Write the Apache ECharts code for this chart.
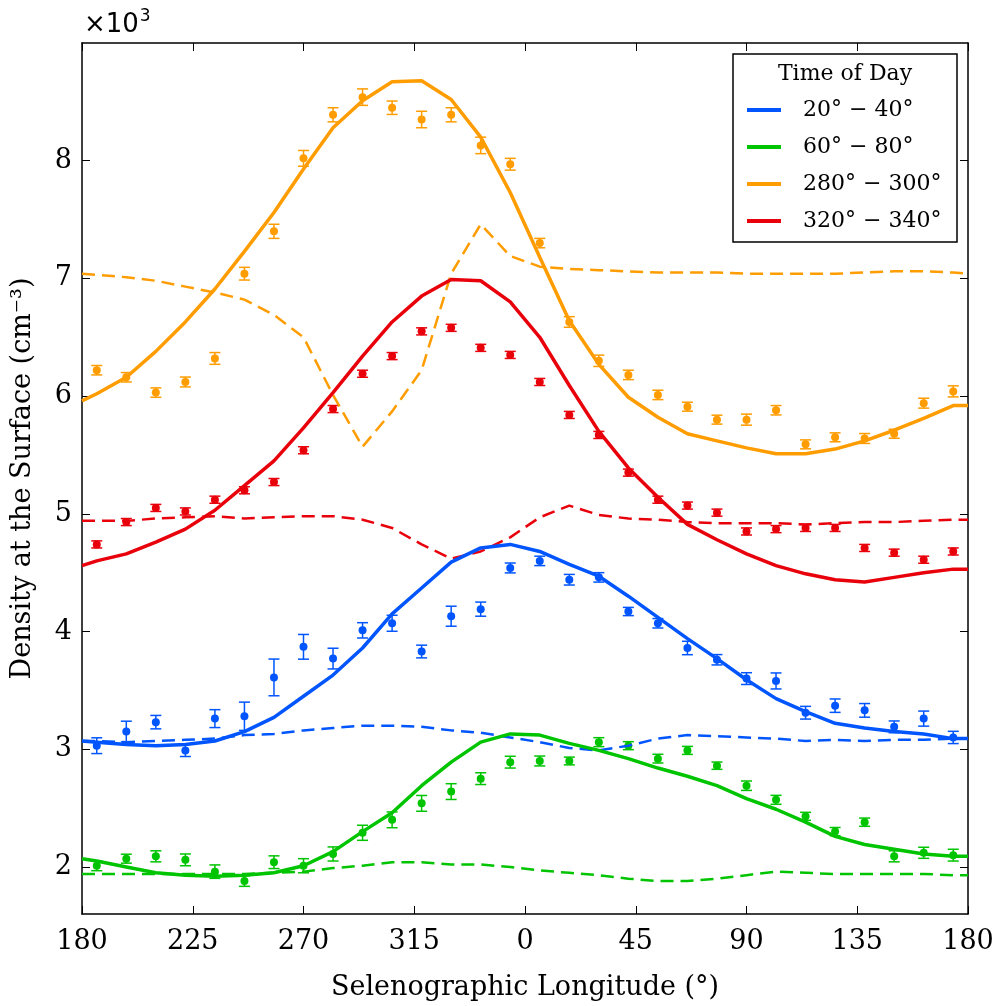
<!DOCTYPE html>
<html>
<head>
<meta charset="utf-8">
<script src="https://cdn.jsdelivr.net/npm/echarts@6/dist/echarts.min.js"></script>
<style>
  html, body { margin: 0; padding: 0; background: #fff; }
  #main { width: 998px; height: 1006px; }
</style>
</head>
<body>
<div id="main"></div>
<script>
// longitudes of the measured points and of the model curves (180..540 = 180..360..180)
const pointLon = [186, 198, 210, 222, 234, 246, 258, 270, 282, 294, 306, 318, 330, 342, 354,
                  366, 378, 390, 402, 414, 426, 438, 450, 462, 474, 486, 498, 510, 522, 534];
const lineLon = [180, 186, 198, 210, 222, 234, 246, 258, 270, 282, 294, 306, 318, 330, 342, 354,
                 366, 378, 390, 402, 414, 426, 438, 450, 462, 474, 486, 498, 510, 522, 534, 540];
const xTicks = [180, 225, 270, 315, 360, 405, 450, 495, 540];
const yTicks = [2, 3, 4, 5, 6, 7, 8];

const legendNames = ['20° − 40°', '60° − 80°', '280° − 300°', '320° − 340°'];
const colors = ['#0055ff', '#00c400', '#ff9c00', '#e8000b'];

// 20-40 (blue)
const bluePts = [3.03, 3.15, 3.23, 2.99, 3.26, 3.28, 3.61, 3.87, 3.77, 4.01, 4.07, 3.83, 4.13, 4.19, 4.54,
                 4.60, 4.44, 4.46, 4.17, 4.07, 3.86, 3.76, 3.60, 3.58, 3.31, 3.37, 3.33, 3.19, 3.26, 3.10];
const blueErr = [0.067, 0.088, 0.057, 0.052, 0.076, 0.12, 0.156, 0.105, 0.088, 0.065, 0.068, 0.054, 0.085, 0.06, 0.042,
                 0.04, 0.045, 0.04, 0.035, 0.04, 0.057, 0.044, 0.05, 0.068, 0.054, 0.057, 0.058, 0.05, 0.064, 0.052];
const blueModel = [3.07, 3.06, 3.04, 3.03, 3.04, 3.07, 3.15, 3.27, 3.45, 3.63, 3.86, 4.15, 4.37, 4.59, 4.71, 4.74,
                   4.68, 4.57, 4.47, 4.30, 4.12, 3.94, 3.77, 3.59, 3.43, 3.32, 3.22, 3.18, 3.15, 3.13, 3.09, 3.09];
const blueDash = [3.07, 3.07, 3.06, 3.07, 3.08, 3.09, 3.12, 3.13, 3.16, 3.18, 3.20, 3.20, 3.19, 3.16, 3.14, 3.10,
                  3.06, 3.01, 2.99, 3.03, 3.09, 3.12, 3.11, 3.10, 3.09, 3.07, 3.08, 3.07, 3.08, 3.08, 3.09, 3.09];

// 60-80 (green)
const greenPts = [2.01, 2.07, 2.09, 2.06, 1.96, 1.88, 2.04, 2.01, 2.11, 2.29, 2.40, 2.54, 2.64, 2.75, 2.89,
                  2.90, 2.90, 3.06, 3.03, 2.92, 2.99, 2.86, 2.69, 2.57, 2.43, 2.30, 2.38, 2.09, 2.12, 2.10];
const greenErr = [0.042, 0.038, 0.047, 0.05, 0.057, 0.045, 0.054, 0.06, 0.06, 0.064, 0.067, 0.067, 0.067, 0.05, 0.05,
                  0.042, 0.033, 0.038, 0.034, 0.037, 0.034, 0.031, 0.04, 0.038, 0.034, 0.035, 0.035, 0.047, 0.047, 0.05];
const greenModel = [2.07, 2.05, 2.00, 1.95, 1.93, 1.92, 1.93, 1.95, 2.01, 2.13, 2.30, 2.46, 2.69, 2.89, 3.06, 3.13,
                    3.12, 3.05, 2.99, 2.92, 2.84, 2.77, 2.69, 2.58, 2.49, 2.38, 2.26, 2.19, 2.15, 2.11, 2.09, 2.09];
const greenDash = [1.94, 1.94, 1.94, 1.94, 1.94, 1.94, 1.94, 1.95, 1.96, 1.99, 2.01, 2.04, 2.04, 2.02, 2.02, 2.00,
                   1.97, 1.95, 1.93, 1.90, 1.88, 1.88, 1.90, 1.93, 1.96, 1.95, 1.94, 1.94, 1.94, 1.94, 1.93, 1.93];

// 280-300 (orange)
const orangePts = [6.22, 6.16, 6.03, 6.12, 6.32, 7.04, 7.40, 8.02, 8.39, 8.54, 8.45, 8.35, 8.39, 8.13, 7.97,
                   7.30, 6.63, 6.30, 6.18, 6.01, 5.91, 5.80, 5.80, 5.88, 5.59, 5.65, 5.64, 5.68, 5.94, 6.04];
const orangeErr = [0.04, 0.04, 0.04, 0.042, 0.05, 0.054, 0.06, 0.067, 0.06, 0.07, 0.057, 0.07, 0.06, 0.07, 0.05,
                   0.04, 0.045, 0.048, 0.04, 0.04, 0.038, 0.038, 0.047, 0.04, 0.038, 0.038, 0.042, 0.038, 0.042, 0.047];
const orangeModel = [5.96, 6.02, 6.16, 6.38, 6.63, 6.91, 7.23, 7.56, 7.93, 8.28, 8.51, 8.67, 8.68, 8.52, 8.20, 7.73,
                     7.18, 6.64, 6.27, 5.99, 5.82, 5.68, 5.62, 5.56, 5.51, 5.51, 5.55, 5.62, 5.71, 5.81, 5.92, 5.92];
const orangeDash = [7.04, 7.03, 7.01, 6.98, 6.93, 6.88, 6.82, 6.69, 6.50, 6.01, 5.57, 5.87, 6.22, 7.04, 7.46, 7.19,
                    7.10, 7.08, 7.07, 7.06, 7.05, 7.05, 7.05, 7.04, 7.04, 7.04, 7.04, 7.05, 7.06, 7.06, 7.05, 7.04];

// 320-340 (red)
const redPts = [4.74, 4.93, 5.05, 5.02, 5.12, 5.20, 5.27, 5.54, 5.89, 6.19, 6.34, 6.55, 6.58, 6.41, 6.35,
                6.12, 5.84, 5.67, 5.35, 5.12, 5.07, 5.01, 4.85, 4.87, 4.88, 4.88, 4.71, 4.67, 4.61, 4.68];
const redErr = [0.03, 0.03, 0.03, 0.03, 0.03, 0.03, 0.03, 0.03, 0.03, 0.03, 0.03, 0.03, 0.03, 0.03, 0.03,
                0.03, 0.03, 0.03, 0.03, 0.03, 0.03, 0.03, 0.03, 0.03, 0.03, 0.03, 0.03, 0.03, 0.03, 0.03];
const redModel = [4.56, 4.60, 4.66, 4.76, 4.87, 5.03, 5.24, 5.45, 5.73, 6.03, 6.34, 6.63, 6.85, 6.99, 6.98, 6.80,
                  6.50, 6.09, 5.70, 5.39, 5.14, 4.91, 4.78, 4.66, 4.56, 4.49, 4.44, 4.42, 4.46, 4.50, 4.53, 4.53];
const redDash = [4.94, 4.94, 4.94, 4.96, 4.97, 4.98, 4.96, 4.97, 4.98, 4.98, 4.95, 4.88, 4.74, 4.62, 4.68, 4.80,
                 4.97, 5.07, 4.99, 4.96, 4.95, 4.93, 4.92, 4.92, 4.92, 4.91, 4.92, 4.93, 4.93, 4.94, 4.95, 4.95];

const SERIF = "'DejaVu Serif', serif";

function errorSeries(name, color, vals, errs) {
  return {
    name: name,
    type: 'custom',
    z: 2,
    data: pointLon.map((x, i) => [x, vals[i], errs[i]]),
    renderItem: function (params, api) {
      const x = api.value(0), y = api.value(1), e = api.value(2);
      const c = api.coord([x, y]);
      const top = api.coord([x, y + e]);
      const bot = api.coord([x, y - e]);
      const w = 5.5;
      const st = { stroke: color, lineWidth: 1.5 };
      return {
        type: 'group',
        children: [
          { type: 'line', shape: { x1: top[0], y1: top[1], x2: bot[0], y2: bot[1] }, style: st },
          { type: 'line', shape: { x1: top[0] - w, y1: top[1], x2: top[0] + w, y2: top[1] }, style: st },
          { type: 'line', shape: { x1: bot[0] - w, y1: bot[1], x2: bot[0] + w, y2: bot[1] }, style: st },
          { type: 'circle', shape: { cx: c[0], cy: c[1], r: 4 }, style: { fill: color } }
        ]
      };
    }
  };
}

function lineSeries(name, color, vals, dashed) {
  return {
    name: name,
    type: 'line',
    z: 3,
    symbol: 'none',
    clip: true,
    data: lineLon.map((x, i) => [x, vals[i]]),
    itemStyle: { color: color },
    lineStyle: { color: color, width: dashed ? 2.5 : 3.5, type: dashed ? [13, 7] : 'solid' }
  };
}

const groups = [
  [bluePts, blueErr, blueModel, blueDash],
  [greenPts, greenErr, greenModel, greenDash],
  [orangePts, orangeErr, orangeModel, orangeDash],
  [redPts, redErr, redModel, redDash]
];

let series = [];
groups.forEach((g, i) => {
  series.push(errorSeries('pts' + i, colors[i], g[0], g[1]));
  series.push(lineSeries('dash' + i, colors[i], g[3], true));
});
groups.forEach((g, i) => {
  series.push(lineSeries(legendNames[i], colors[i], g[2], false));
});

const frame = { show: true, onZero: false, lineStyle: { color: '#000', width: 1.5 } };
const ticks = (vals) => ({ show: true, inside: true, length: 8, customValues: vals, lineStyle: { color: '#000', width: 1 } });

var myChart = echarts.init(document.getElementById('main'));
let option = {
  animation: false,
  backgroundColor: '#fff',
  grid: { left: 82, right: 30, top: 43, bottom: 92 },
  xAxis: [
    {
      type: 'value', min: 180, max: 540, position: 'bottom',
      axisLine: frame, axisTick: ticks(xTicks), splitLine: { show: false },
      axisLabel: {
        customValues: xTicks,
        formatter: (v) => String(v % 360),
        fontFamily: SERIF, fontSize: 27, color: '#000', margin: 14
      },
      name: 'Selenographic Longitude (°)', nameLocation: 'middle', nameGap: 60,
      nameTextStyle: { fontFamily: SERIF, fontSize: 27, color: '#000' }
    },
    {
      type: 'value', min: 180, max: 540, position: 'top',
      axisLine: frame, axisTick: ticks(xTicks), splitLine: { show: false },
      axisLabel: { show: false }
    }
  ],
  yAxis: [
    {
      type: 'value', min: 1.6, max: 9.0, position: 'left',
      axisLine: frame, axisTick: ticks(yTicks), splitLine: { show: false },
      axisLabel: { customValues: yTicks, fontFamily: SERIF, fontSize: 27, color: '#000', margin: 10 },
      name: 'Density at the Surface (cm⁻³)', nameLocation: 'middle', nameGap: 46, nameRotate: 90,
      nameTextStyle: { fontFamily: SERIF, fontSize: 27, color: '#000' }
    },
    {
      type: 'value', min: 1.6, max: 9.0, position: 'right',
      axisLine: frame, axisTick: ticks(yTicks), splitLine: { show: false },
      axisLabel: { show: false }
    }
  ],
  legend: {
    data: legendNames,
    orient: 'vertical',
    left: 747, top: 97,
    padding: 0,
    icon: 'rect',
    itemWidth: 34, itemHeight: 4, itemGap: 11,
    selectedMode: false,
    textStyle: { fontFamily: SERIF, fontSize: 22, color: '#000', lineHeight: 26, padding: [0, 0, 0, 17] }
  },
  graphic: [
    { type: 'rect', shape: { x: 733, y: 54, width: 224, height: 188 },
      style: { fill: 'none', stroke: '#000', lineWidth: 1.5 } },
    { type: 'text', x: 845, y: 74,
      style: { text: 'Time of Day', font: "22px 'DejaVu Serif'", fill: '#000', align: 'center', verticalAlign: 'middle' } },
    { type: 'text', x: 84, y: 8,
      style: {
        text: '{a|×10}{b|3}',
        rich: {
          a: { fontFamily: 'DejaVu Sans', fontSize: 26, lineHeight: 30, color: '#000', verticalAlign: 'bottom' },
          b: { fontFamily: 'DejaVu Sans', fontSize: 17, lineHeight: 30, color: '#000', verticalAlign: 'top', padding: [0, 0, 0, 1] }
        }
      } }
  ],
  series: series
};
option && myChart.setOption(option);
</script>
</body>
</html>
